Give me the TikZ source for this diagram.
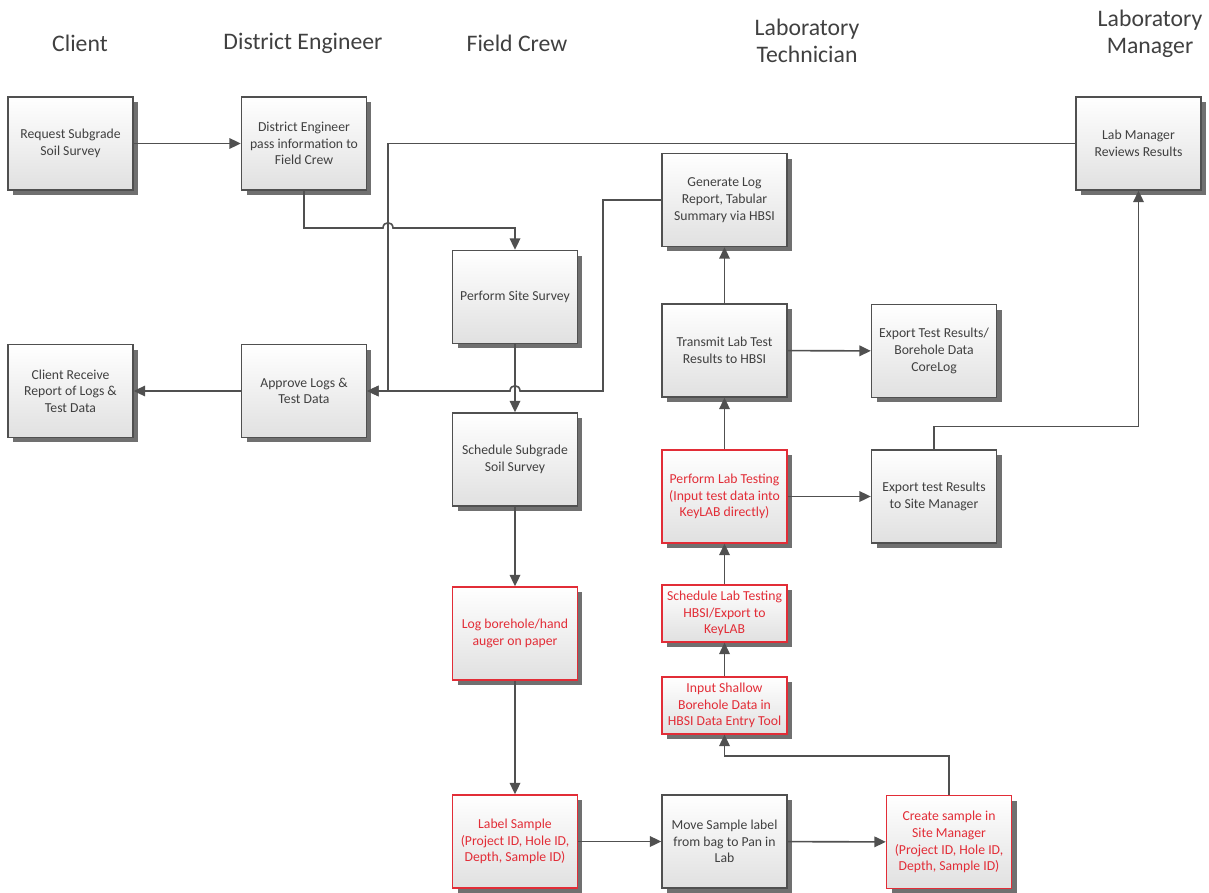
\documentclass[tikz,border=0pt]{standalone}
\usepackage{fontspec}
\setmainfont{Carlito}
\usepackage{tikz}
\usetikzlibrary{arrows,arrows.meta,shapes,positioning,shadows,calc}
\usepackage{xcolor}
\definecolor{vsgray}{RGB}{64,64,64}
\definecolor{vsline}{RGB}{80,80,80}
\definecolor{vsred}{RGB}{226,45,55}
\definecolor{vsshadow}{RGB}{112,112,112}
\tikzstyle{arrow} = [line width=0.9pt,->,>={Triangle[length=6.5pt,width=6pt]},color=vsline]
\tikzstyle{procbox} = [rectangle, minimum width=2.5cm, minimum height=1.86cm, inner xsep=1pt, align=center, draw=vsline, line width=0.8pt, top color=white, bottom color=black!12, text=vsgray, font=\fontsize{7.8}{9.5}\selectfont, drop shadow={shadow xshift=0.1cm, shadow yshift=-0.1cm, fill=vsshadow, opacity=1}]
\tikzstyle{redbox} = [procbox, draw=vsred, text=vsred]
\tikzstyle{lane} = [text=vsgray, align=center, font=\fontsize{13.5}{15.5}\selectfont]

\begin{document}
\begin{tikzpicture}[x=0.02cm, y=-0.02cm]
\useasboundingbox (0,0) rectangle (1209,892);

% Lane titles
\node[lane] (hclient) at (80,43) {Client};
\node[lane] (hde) at (303,43) {District Engineer};
\node[lane] (hfield) at (517,43) {Field Crew};
\node[lane] (htech) at (807,41) {Laboratory\\Technician};
\node[lane] (hmgr) at (1150,34) {Laboratory\\Manager};

% Client
\node[procbox] (req) at (70.5,143.5) {Request Subgrade\\Soil Survey};
\node[procbox] (recv) at (70.5,391) {Client Receive\\Report of Logs \&\\Test Data};

% District engineer
\node[procbox] (de) at (304,143.5) {District Engineer\\pass information to\\Field Crew};
\node[procbox] (appr) at (304,391) {Approve Logs \&\\Test Data};

% Field crew
\node[procbox] (site) at (515,297) {Perform Site Survey};
\node[procbox] (sched) at (515,459.5) {Schedule Subgrade\\Soil Survey};
\node[redbox] (log) at (515,633.5) {Log borehole/hand\\auger on paper};
\node[redbox] (label) at (515,841.5) {Label Sample\\(Project ID, Hole ID,\\Depth, Sample ID)};

% Lab technician
\node[procbox] (gen) at (724.5,200) {Generate Log\\Report, Tabular\\Summary via HBSI};
\node[procbox] (trans) at (724.5,350.5) {Transmit Lab Test\\Results to HBSI};
\node[redbox] (perf) at (724.5,496.5) {Perform Lab Testing\\(Input test data into\\KeyLAB directly)};
\node[redbox, minimum height=1.08cm] (schedlab) at (724.5,613.5) {Schedule Lab Testing\\HBSI/Export to\\KeyLAB};
\node[redbox, minimum height=1.1cm] (input) at (724.5,705.5) {Input Shallow\\Borehole Data in\\HBSI Data Entry Tool};
\node[procbox] (move) at (724.5,841.5) {Move Sample label\\from bag to Pan in\\Lab};
\node[procbox] (exp1) at (934,351) {Export Test Results/\\Borehole Data\\CoreLog};
\node[procbox] (expsm) at (934,496.5) {Export test Results\\to Site Manager};
\node[redbox] (create) at (949,842) {Create sample in\\Site Manager\\(Project ID, Hole ID,\\Depth, Sample ID)};

% Lab manager
\node[procbox] (lmgr) at (1138.5,143.5) {Lab Manager\\Reviews Results};

% Arrows
\draw[arrow] (req) -- (de);
\draw[arrow] (de.south) |- (383,228) .. controls (383,221) and (393,221) .. (393,228) -| (site.north);
\draw[arrow] (lmgr.west) -| (388,391) -- (appr.east);
\draw[arrow] (gen.west) -| (603,391) -- (520,391) .. controls (520,384) and (510,384) .. (510,391) -- (appr.east);
\draw[arrow] (appr) -- (recv);
\draw[arrow] (site) -- (sched);
\draw[arrow] (sched) -- (log);
\draw[arrow] (log) -- (label);
\draw[arrow] (label) -- (move);
\draw[arrow] (move) -- (create);
\draw[arrow] (create.north) -- ++(0,-39) -| (input.south);
\draw[arrow] (input) -- (schedlab);
\draw[arrow] (schedlab) -- (perf);
\draw[arrow] (perf) -- (trans);
\draw[arrow] (trans) -- (gen);
\draw[arrow] (trans) -- (exp1);
\draw[arrow] (perf) -- (expsm);
\draw[arrow] (expsm.north) -- ++(0,-23) -| (lmgr.south);
\end{tikzpicture}
\end{document}
